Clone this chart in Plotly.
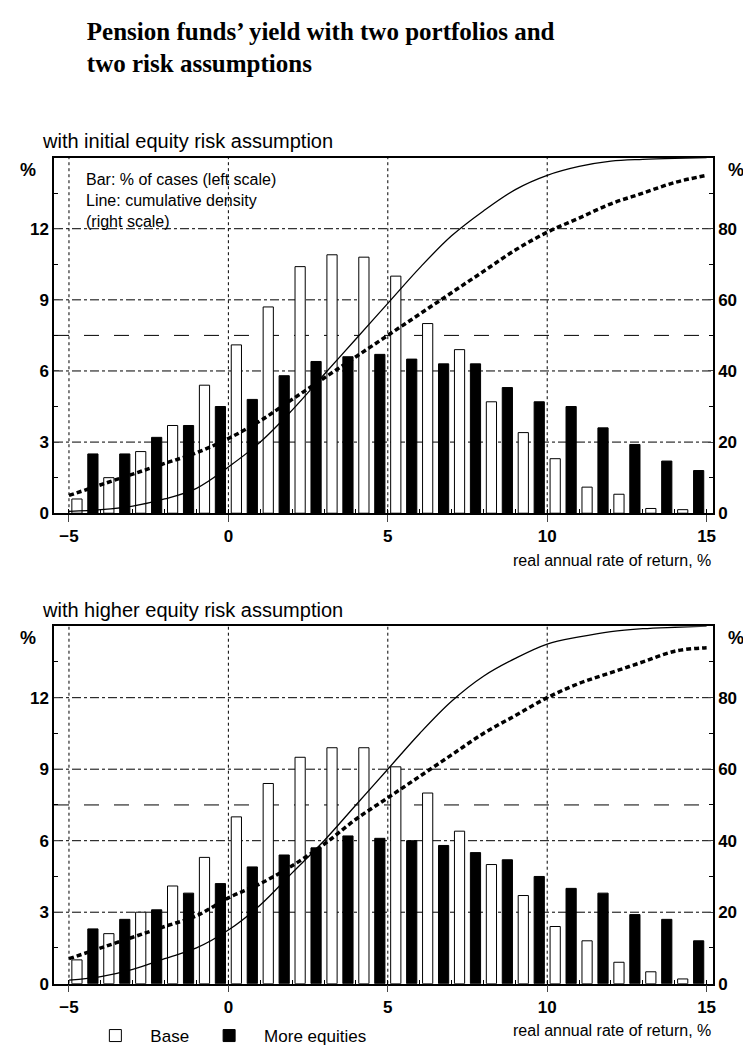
import plotly.graph_objects as go

bins = [-4.5 + i for i in range(20)]
top_base = [0.6,1.5,2.6,3.7,5.4,7.1,8.7,10.4,10.9,10.8,10.0,8.0,6.9,4.7,3.4,2.3,1.1,0.8,0.2,0.15]
top_eq = [2.5,2.5,3.2,3.7,4.5,4.8,5.8,6.4,6.6,6.7,6.5,6.3,6.3,5.3,4.7,4.5,3.6,2.9,2.2,1.8]
bot_base = [1.0,2.1,3.0,4.1,5.3,7.0,8.4,9.5,9.9,9.9,9.1,8.0,6.4,5.0,3.7,2.4,1.8,0.9,0.5,0.2]
bot_eq = [2.3,2.7,3.1,3.8,4.2,4.9,5.4,5.7,6.2,6.1,6.0,5.8,5.5,5.2,4.5,4.0,3.8,2.9,2.7,1.8]

cx = list(range(-5, 16))
top_cum_base = [0.5,1,2,4,7,13,20,29,39,49,59,69,78,85,91,95,97.5,99,99.5,99.8,100]
top_cum_eq = [5,8,11,14,17,21,26,32,38,44,50,56,62,68,74,79,83,87,90,93,95]
bot_cum_base = [1,2,4,7,10,15,22,31,40,50,60,70,79,86,91,95,97,98.5,99.3,99.7,100]
bot_cum_eq = [7,10,13,16,19,24,28,33,39,46,52,58,64,70,75,80,84,87,90,93,94]

FONT = "Liberation Sans"
XR = [-5.47, 15.2]
fig = go.Figure()
doms = {1: [0.517, 0.857], 2: [0.0672, 0.409]}
sets = {1: (top_base, top_eq, top_cum_base, top_cum_eq), 2: (bot_base, bot_eq, bot_cum_base, bot_cum_eq)}
axn = {1: ("x", "y", "y2"), 2: ("x2", "y3", "y4")}
for k in (1, 2):
    b, e, cb, ce = sets[k]
    xa, ya, yr = axn[k]
    fig.add_trace(go.Bar(x=[c - 0.25 for c in bins], y=b, width=0.32, marker=dict(color="white", line=dict(color="black", width=1)),
                         name="Base", showlegend=(k == 2), xaxis=xa, yaxis=ya))
    fig.add_trace(go.Bar(x=[c + 0.25 for c in bins], y=e, width=0.32, marker=dict(color="black", line=dict(color="black", width=1)),
                         name="More equities", showlegend=(k == 2), xaxis=xa, yaxis=ya))
    fig.add_trace(go.Scatter(x=cx, y=cb, mode="lines", line=dict(color="black", width=1.3, shape="spline"), showlegend=False, xaxis=xa, yaxis=yr))
    fig.add_trace(go.Scatter(x=cx, y=ce, mode="lines", line=dict(color="black", width=3.5, dash="5px,3px", shape="spline"), showlegend=False, xaxis=xa, yaxis=yr))

ax_common = dict(showline=True, linecolor="black", linewidth=1.5, mirror=True, showgrid=False, zeroline=False,
                 tickfont=dict(family=FONT, size=17, color="black", weight="bold"), ticks="inside", ticklen=5)
for k in (1, 2):
    xa, ya, yr = axn[k]
    xk = "xaxis" if k == 1 else "xaxis2"
    yk = "yaxis" if k == 1 else "yaxis3"
    rk = "yaxis2" if k == 1 else "yaxis4"
    fig.layout[xk] = dict(ax_common, range=XR, domain=[0, 1], anchor=ya, tickvals=[-5, 0, 5, 10, 15],
                          minor=dict(tickvals=list(range(-5, 16)), ticks="inside", ticklen=4, tickcolor="black"),
                          ticklen=7, ticks="outside")
    fig.layout[yk] = dict(ax_common, range=[0, 15], domain=doms[k], anchor=xa, tickvals=[0, 3, 6, 9, 12],
                          minor=dict(tickvals=[1.5, 4.5, 7.5, 10.5, 13.5], ticks="inside", ticklen=4, tickcolor="black"))
    fig.layout[rk] = dict(ax_common, range=[0, 100], overlaying=ya, anchor=xa, side="right", tickvals=[0, 20, 40, 60, 80],
                          minor=dict(tickvals=[10, 30, 50, 70, 90], ticks="inside", ticklen=4, tickcolor="black"))
    for v in [-5, 0, 5, 10]:
        fig.add_shape(type="line", xref=xa, yref=ya, x0=v, x1=v, y0=0, y1=15, line=dict(color="black", width=1, dash="dot"), layer="below")
    for v in [3, 6, 9, 12]:
        fig.add_shape(type="line", xref=xa, yref=ya, x0=XR[0], x1=XR[1], y0=v, y1=v, line=dict(color="black", width=1, dash="dashdot"), layer="below")
    fig.add_shape(type="line", xref=xa, yref=ya, x0=XR[0], x1=XR[1], y0=7.5, y1=7.5, line=dict(color="black", width=1, dash="longdash"), layer="below")
    top = doms[k][1]
    fig.add_annotation(xref="paper", yref="paper", x=-0.025, y=top, text="<b>%</b>", showarrow=False, xanchor="right", yanchor="top", font=dict(family=FONT, size=18, color="black"))
    fig.add_annotation(xref="paper", yref="paper", x=1.02, y=top, text="<b>%</b>", showarrow=False, xanchor="left", yanchor="top", font=dict(family=FONT, size=18, color="black"))
    fig.add_annotation(xref="paper", yref="paper", x=1.0, y=doms[k][0] - 0.045, text="real annual rate of return, %", showarrow=False,
                       xanchor="right", yanchor="middle", font=dict(family=FONT, size=16, color="black"))
    fig.add_annotation(xref="paper", yref="paper", x=-0.022, y=top + 0.003,
                       text=["with initial equity risk assumption", "with higher equity risk assumption"][k - 1],
                       showarrow=False, xanchor="left", yanchor="bottom", font=dict(family=FONT, size=20, color="black"))

fig.add_annotation(xref="paper", yref="paper", x=0.045, y=0.846, text="Bar: % of cases (left scale)<br>Line: cumulative density<br>(right scale)", showarrow=False,
                   xanchor="left", yanchor="top", align="left", font=dict(family=FONT, size=16, color="black"))

fig.update_layout(
    width=751, height=1056, plot_bgcolor="white", paper_bgcolor="white", barmode="overlay",
    margin=dict(l=46, r=46, t=0, b=0),
    title=dict(text="<b>Pension funds’ yield with two portfolios and<br>two risk assumptions</b>", x=0.105, xanchor="left", y=0.97, yanchor="top",
               font=dict(family="Liberation Serif", size=25, color="black")),
    legend=dict(orientation="h", x=0.04, y=0.0, yanchor="bottom", font=dict(family=FONT, size=17, color="black"), itemwidth=60, tracegroupgap=0),
)
fig.write_html("out.html")
